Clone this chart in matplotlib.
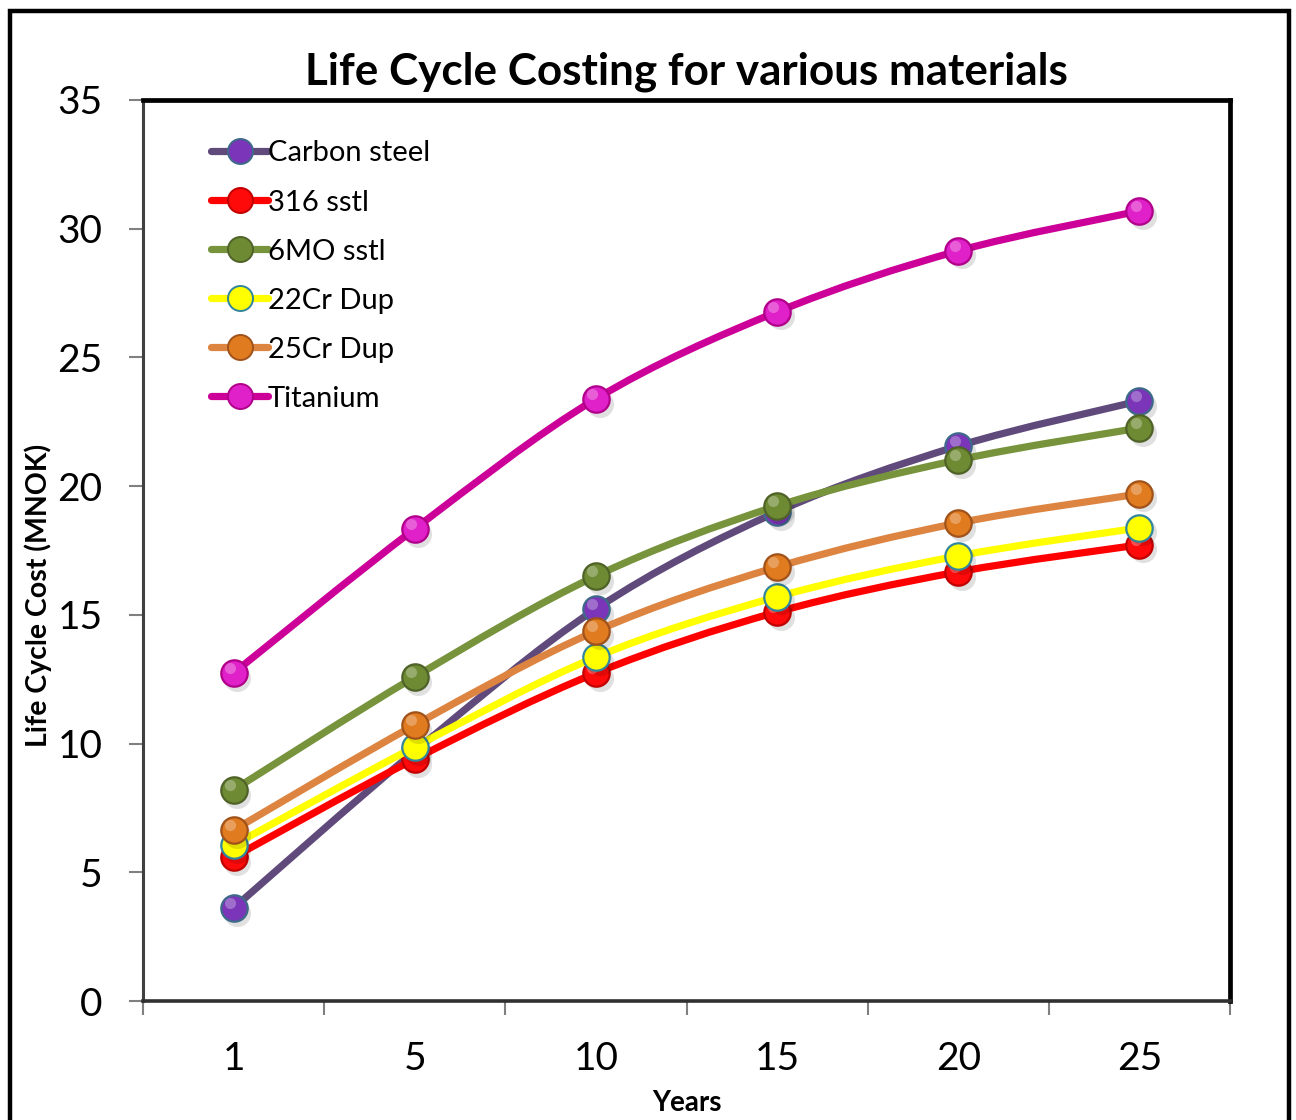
import matplotlib
matplotlib.use("Agg")
import matplotlib.pyplot as plt
from matplotlib.path import Path
from matplotlib.patches import PathPatch, Rectangle
import numpy as np

years = ["1", "5", "10", "15", "20", "25"]
carbon_steel = [3.61, 9.7, 15.23, 19.0, 21.56, 23.31]
sstl_316 = [5.59, 9.40, 12.74, 15.11, 16.67, 17.72]
mo6_sstl = [8.20, 12.59, 16.51, 19.23, 21.02, 22.26]
cr22_dup = [6.06, 9.87, 13.36, 15.70, 17.29, 18.38]
cr25_dup = [6.64, 10.72, 14.37, 16.86, 18.57, 19.70]
titanium = [12.74, 18.34, 23.39, 26.77, 29.14, 30.69]

series = [
    ("Carbon steel", carbon_steel, "#604A7B", "#7B35B8", "#3E6A8A"),
    ("316 sstl", sstl_316, "#FF0000", "#FF0A0A", "#C00000"),
    ("6MO sstl", mo6_sstl, "#77933C", "#6E8B34", "#4F6228"),
    ("22Cr Dup", cr22_dup, "#FFFF00", "#FFFF00", "#31859C"),
    ("25Cr Dup", cr25_dup, "#DD8440", "#E07B20", "#A0521A"),
    ("Titanium", titanium, "#CC0099", "#E020C8", "#B0008A"),
]

plt.rcParams['font.family'] = ['Lato', 'DejaVu Sans']

fig = plt.figure(figsize=(12.96, 11.2), dpi=100)
ax = fig.add_axes([143/1296, 1-1001/1120, (1230-143)/1296, (1001-100)/1120])

# outer frame
fig.patches.append(Rectangle((10/1296, -0.05), (1289-10)/1296, 1.05-11/1120,
                             transform=fig.transFigure, fill=False,
                             edgecolor="black", linewidth=3.2, zorder=0))

x = np.arange(len(years))

def smooth_path(xs, ys, t=1/6):
    verts = [(xs[0], ys[0])]
    codes = [Path.MOVETO]
    n = len(xs)
    for i in range(n - 1):
        p0 = np.array([xs[max(i-1, 0)], ys[max(i-1, 0)]])
        p1 = np.array([xs[i], ys[i]])
        p2 = np.array([xs[i+1], ys[i+1]])
        p3 = np.array([xs[min(i+2, n-1)], ys[min(i+2, n-1)]])
        c1 = p1 + (p2 - p0) * t
        c2 = p2 - (p3 - p1) * t
        verts += [tuple(c1), tuple(c2), tuple(p2)]
        codes += [Path.CURVE4] * 3
    return Path(verts, codes)

for z, (name, vals, lc, mc, ec) in enumerate(series):
    base = 3 + z * 0.1
    ax.add_patch(PathPatch(smooth_path(x, vals), facecolor="none", edgecolor=lc,
                           linewidth=5.2, capstyle="round", zorder=base))
    # shadow
    ax.plot(x + 0.02, np.array(vals) - 0.18, 'o', ms=19.5, color="#000000", alpha=0.12,
            mec="none", zorder=base + 0.01)
    ax.plot(x, vals, 'o', ms=19, color=mc, mec=ec, mew=1.6, zorder=base + 0.02)
    if name != "22Cr Dup":
        ax.plot(x - 0.02, np.array(vals) + 0.18, 'o', ms=8, color="white", alpha=0.28,
                mec="none", zorder=base + 0.03)
    # legend proxy
    ax.plot([], [], '-o', color=lc, lw=5.2, ms=18, mfc=mc, mec=ec, mew=1.4,
            solid_capstyle="round", label=name)

ax.set_xlim(-0.5, len(years) - 0.5)
ax.set_ylim(0, 35)
ax.set_yticks(np.arange(0, 36, 5))
ax.set_xticks(x)
ax.set_xticklabels(years)
ax.set_xticks(np.arange(-0.5, len(years), 1), minor=True)
ax.tick_params(axis='x', which='major', length=0, pad=29, labelsize=28)
ax.tick_params(axis='x', which='minor', length=10, width=1.5, color="#808080", direction='out')
ax.tick_params(axis='y', length=10, width=1.5, color="#808080", direction='out', pad=19,
               labelsize=28)

for s in ["top", "right"]:
    ax.spines[s].set_linewidth(3.4)
    ax.spines[s].set_color("black")
ax.spines["left"].set_linewidth(2.2)
ax.spines["left"].set_color("#404040")
ax.spines["bottom"].set_linewidth(2.6)
ax.spines["bottom"].set_color("#303030")

ax.set_title("Life Cycle Costing for various materials", fontsize=31.7, fontweight="bold",
             pad=11)
ax.set_ylabel("Life Cycle Cost (MNOK)", fontsize=20.5, fontweight="bold")
ax.yaxis.set_label_coords(-0.084, 0.4506)
ax.set_xlabel("Years", fontsize=20, fontweight="bold", labelpad=9)

leg = ax.legend(loc="upper left", bbox_to_anchor=(0.052, 0.968), frameon=False,
                fontsize=21, handlelength=1.95, handletextpad=0.0, labelspacing=0.79,
                borderaxespad=0)

fig.savefig("out.png", dpi=100)
